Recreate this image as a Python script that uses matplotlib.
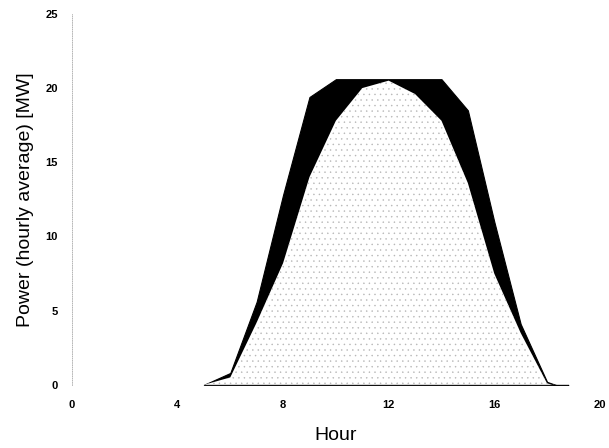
import numpy as np
import matplotlib.pyplot as plt

plt.rcParams['font.family'] = ['Liberation Sans', 'DejaVu Sans']
plt.rcParams['hatch.linewidth'] = 0.3

# hourly values
hours = [5, 6, 7, 8, 9, 10, 11, 12, 13, 14, 15, 16, 17, 18, 18.8]
outer_mw = [0, 0.8, 5.6, 12.8, 19.4, 20.6, 20.6, 20.6, 20.6, 20.6, 18.5, 11.0, 4.1, 0.2, -0.3]
inner_mw = [0, 0.5, 4.2, 8.2, 14.0, 17.8, 20.0, 20.5, 19.6, 17.8, 13.6, 7.5, 3.5, 0.1, -0.3]

xticks = [0, 4, 8, 12, 16, 20]
yticks = [0, 5, 10, 15, 20, 25]

fig = plt.figure(figsize=(6.09, 4.48), dpi=100)
ax = fig.add_axes([0.118, 0.141, 0.867, 0.828])

# black band = difference between the two curves
ax.fill_between(hours, 0, outer_mw, color='black', linewidth=0.8)
# stippled area under the lower curve
ax.fill_between(hours, 0, inner_mw, facecolor='white', edgecolor='#b5b5b5',
                hatch='...', linewidth=0)

ax.set_xlim(0, 20)
ax.set_ylim(0, 25)
ax.set_xticks(xticks)
ax.set_yticks(yticks)
ax.tick_params(length=0, labelsize=8)
ax.tick_params(axis='x', pad=11)
ax.tick_params(axis='y', pad=10)
for lbl in ax.get_xticklabels() + ax.get_yticklabels():
    lbl.set_fontweight('bold')

for s in ['top', 'right', 'bottom']:
    ax.spines[s].set_visible(False)
ax.spines['left'].set_linestyle(':')
ax.spines['left'].set_color('#aaaaaa')
ax.spines['left'].set_linewidth(0.6)

ax.set_xlabel('Hour', fontsize=14, labelpad=12)
ax.set_ylabel('Power (hourly average) [MW]', fontsize=14, labelpad=8)

fig.savefig('out.png', dpi=100)
